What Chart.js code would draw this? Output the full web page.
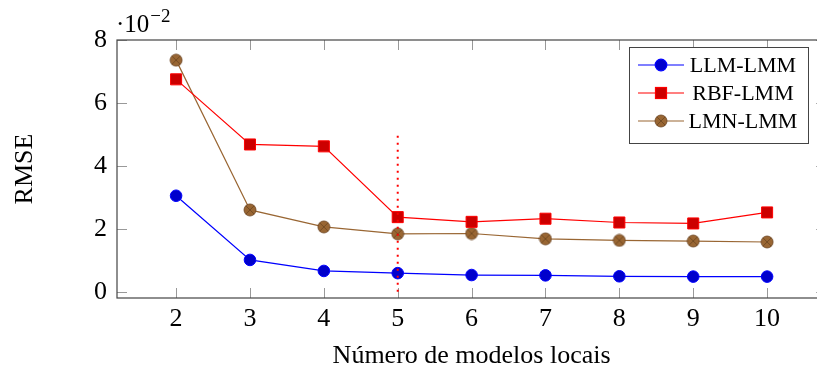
<!DOCTYPE html>
<html>
<head>
<meta charset="utf-8">
<script src="https://cdn.jsdelivr.net/npm/chart.js@4.4.1/dist/chart.umd.min.js"></script>
<style>
  html, body { margin: 0; padding: 0; overflow: hidden; background: #fff; }
  #wrap { width: 835px; height: 369px; }
</style>
</head>
<body>
<div id="wrap"><canvas id="rmseChart" width="835" height="369"></canvas></div>
<script>
// values are in units of 10^-2
const modelos = [2, 3, 4, 5, 6, 7, 8, 9, 10];
const llmLmm = [3.05, 1.01, 0.66, 0.59, 0.53, 0.52, 0.49, 0.48, 0.48];
const rbfLmm = [6.75, 4.68, 4.62, 2.37, 2.22, 2.32, 2.20, 2.17, 2.52];
const lmnLmm = [7.36, 2.60, 2.06, 1.84, 1.85, 1.68, 1.63, 1.61, 1.58];
const xTicks = [2, 3, 4, 5, 6, 7, 8, 9, 10];
const yTicks = [0, 2, 4, 6, 8];
const markerX = [5, 5];
const markerY = [0, 5];

const serif = "'Liberation Serif', 'DejaVu Serif', serif";

function pts(xs, ys) {
    return xs.map((x, i) => ({ x: x, y: ys[i] }));
}

// otimes* style marker for the LMN series
function otimesMarker() {
    const c = document.createElement('canvas');
    c.width = 14; c.height = 14;
    const g = c.getContext('2d');
    g.beginPath();
    g.arc(7, 7, 6, 0, Math.PI * 2);
    g.fillStyle = '#996633';
    g.fill();
    g.lineWidth = 0.8;
    g.strokeStyle = '#6b4422';
    g.stroke();
    const d = 6 * Math.SQRT1_2;
    g.beginPath();
    g.moveTo(7 - d, 7 - d); g.lineTo(7 + d, 7 + d);
    g.moveTo(7 + d, 7 - d); g.lineTo(7 - d, 7 + d);
    g.lineWidth = 0.6;
    g.strokeStyle = '#5a3a1a';
    g.stroke();
    return c;
}
const brownMark = otimesMarker();

// axis box, inner tick marks, legend and the 10^-2 factor
const pgfStyle = {
    id: 'pgfStyle',
    beforeDatasetsDraw(chart) {
        const ctx = chart.ctx;
        const a = chart.chartArea;
        const xs = chart.scales.x, ys = chart.scales.y;
        ctx.save();
        ctx.strokeStyle = '#999';
        ctx.lineWidth = 1;
        ctx.beginPath();
        xTicks.forEach(v => {
            const px = Math.round(xs.getPixelForValue(v)) + 0.5;
            ctx.moveTo(px, a.bottom); ctx.lineTo(px, a.bottom - 10);
            ctx.moveTo(px, a.top); ctx.lineTo(px, a.top + 10);
        });
        yTicks.forEach(v => {
            const py = Math.round(ys.getPixelForValue(v)) + 0.5;
            ctx.moveTo(a.left, py); ctx.lineTo(a.left + 10, py);
            ctx.moveTo(a.right, py); ctx.lineTo(a.right - 10, py);
        });
        ctx.stroke();
        ctx.strokeStyle = '#444';
        ctx.lineWidth = 1.2;
        ctx.strokeRect(a.left, a.top, a.right - a.left, a.bottom - a.top);
        ctx.restore();
    },
    afterDraw(chart) {
        const ctx = chart.ctx;
        ctx.save();
        // scale factor
        ctx.fillStyle = '#000';
        ctx.textBaseline = 'alphabetic';
        ctx.textAlign = 'left';
        ctx.font = '25px ' + serif;
        ctx.fillText('\u00b710', 116, 32);
        const w = ctx.measureText('\u00b710').width;
        ctx.font = '19px ' + serif;
        ctx.fillText('\u22122', 117 + w, 22);

        // legend
        const bx = 629, by = 47, bw = 179, bh = 96;
        ctx.fillStyle = '#fff';
        ctx.fillRect(bx, by, bw, bh);
        ctx.strokeStyle = '#444';
        ctx.lineWidth = 1;
        ctx.strokeRect(bx + 0.5, by + 0.5, bw, bh);
        const items = [
            { label: 'LLM-LMM', color: '#0000ff', y: 65, kind: 'circle' },
            { label: 'RBF-LMM', color: '#ff0000', y: 93, kind: 'rect' },
            { label: 'LMN-LMM', color: '#996633', y: 121, kind: 'img' }
        ];
        items.forEach(it => {
            ctx.strokeStyle = it.color;
            ctx.lineWidth = 1.2;
            ctx.beginPath();
            ctx.moveTo(638, it.y); ctx.lineTo(684, it.y);
            ctx.stroke();
            if (it.kind === 'circle') {
                ctx.beginPath();
                ctx.arc(661, it.y, 5.8, 0, Math.PI * 2);
                ctx.fillStyle = '#0000cc';
                ctx.fill();
                ctx.strokeStyle = '#0000ff';
                ctx.stroke();
            } else if (it.kind === 'rect') {
                ctx.fillStyle = '#cc0000';
                ctx.fillRect(655.5, it.y - 5.5, 11, 11);
                ctx.strokeStyle = '#ff0000';
                ctx.strokeRect(655.5, it.y - 5.5, 11, 11);
            } else {
                ctx.drawImage(brownMark, 654, it.y - 7);
            }
            ctx.fillStyle = '#000';
            ctx.font = '22px ' + serif;
            ctx.textAlign = 'center';
            ctx.textBaseline = 'middle';
            ctx.fillText(it.label, 743, it.y + 1);
        });
        ctx.restore();
    }
};

const ctx = document.getElementById('rmseChart').getContext('2d');
new Chart(ctx, {
    type: 'line',
    data: {
        datasets: [
            {
                label: 'marker',
                data: pts(markerX, markerY),
                borderColor: '#ff0000',
                borderWidth: 2,
                borderDash: [2, 5],
                pointRadius: 0
            },
            {
                label: 'LLM-LMM',
                data: pts(modelos, llmLmm),
                borderColor: '#0000ff',
                borderWidth: 1.2,
                pointStyle: 'circle',
                pointRadius: 5.8,
                pointBackgroundColor: '#0000cc',
                pointBorderColor: '#0000ff',
                pointBorderWidth: 1
            },
            {
                label: 'RBF-LMM',
                data: pts(modelos, rbfLmm),
                borderColor: '#ff0000',
                borderWidth: 1.2,
                pointStyle: 'rect',
                pointRadius: 7.8,
                pointBackgroundColor: '#cc0000',
                pointBorderColor: '#ff0000',
                pointBorderWidth: 1
            },
            {
                label: 'LMN-LMM',
                data: pts(modelos, lmnLmm),
                borderColor: '#996633',
                borderWidth: 1.2,
                pointStyle: brownMark,
                pointRadius: 7
            }
        ]
    },
    options: {
        responsive: false,
        animation: false,
        layout: { padding: { top: 40, right: 6, left: 0, bottom: 0 } },
        plugins: {
            legend: { display: false },
            tooltip: { enabled: false }
        },
        scales: {
            x: {
                type: 'linear',
                min: 1.2,
                max: 10.8,
                afterBuildTicks: s => { s.ticks = xTicks.map(v => ({ value: v })); },
                afterFit: s => { s.height = 71; },
                grid: { display: false, drawTicks: false },
                border: { display: false },
                ticks: {
                    color: '#000',
                    font: { family: serif, size: 26 },
                    padding: 6
                },
                title: {
                    display: true,
                    text: 'Número de modelos locais',
                    color: '#000',
                    font: { family: serif, size: 26 },
                    padding: { top: 4, bottom: -3 }
                }
            },
            y: {
                min: -0.2,
                max: 8,
                afterBuildTicks: s => { s.ticks = yTicks.map(v => ({ value: v })); },
                afterFit: s => { s.width = 117; },
                grid: { display: false, drawTicks: false },
                border: { display: false },
                ticks: {
                    color: '#000',
                    font: { family: serif, size: 26 },
                    padding: 10
                },
                title: {
                    display: true,
                    text: 'RMSE',
                    color: '#000',
                    font: { family: serif, size: 26 },
                    padding: { top: 10, bottom: 0 }
                }
            }
        }
    },
    plugins: [pgfStyle]
});
</script>
</body>
</html>
